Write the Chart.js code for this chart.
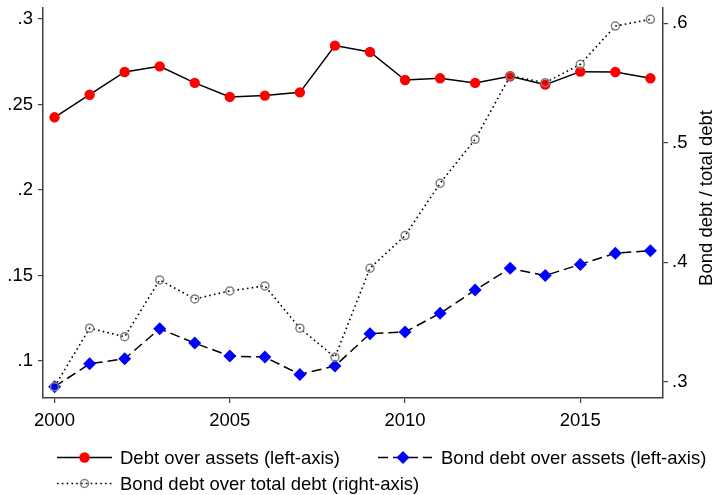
<!DOCTYPE html>
<html>
<head>
<meta charset="utf-8">
<script src="https://cdn.jsdelivr.net/npm/chart.js@4/dist/chart.umd.min.js"></script>
<style>
  html, body { margin: 0; padding: 0; background: #fff; }
  #wrap { width: 714px; height: 495px; position: relative; }
</style>
</head>
<body>
<div id="wrap"><canvas id="c" width="714" height="495"></canvas></div>
<script>
const years = [2000,2001,2002,2003,2004,2005,2006,2007,2008,2009,2010,2011,2012,2013,2014,2015,2016,2017];
const debtOverAssets = [0.2425,0.2557,0.2690,0.2723,0.2626,0.2544,0.2552,0.2571,0.2844,0.2807,0.2643,0.2653,0.2626,0.2665,0.2616,0.2692,0.2690,0.2653];
const bondDebtOverAssets = [0.0850,0.0984,0.1013,0.1189,0.1105,0.1029,0.1023,0.0922,0.0971,0.1160,0.1170,0.1279,0.1415,0.1542,0.1500,0.1565,0.1630,0.1645];
const bondDebtOverTotal = [0.2959,0.3448,0.3377,0.3852,0.3693,0.3760,0.3802,0.3448,0.3205,0.3950,0.4223,0.4661,0.5029,0.5559,0.5503,0.5657,0.5977,0.6033];
const xTicks = [2000,2005,2010,2015];
const leftTicks = [0.1,0.15,0.2,0.25,0.3];
const rightTicks = [0.3,0.4,0.5,0.6];
const seriesLabels = ['Debt over assets (left-axis)','Bond debt over assets (left-axis)','Bond debt over total debt (right-axis)'];
const rightTitle = 'Bond debt / total debt';

const FONT = '"Liberation Sans", Arial, sans-serif';
const FS = 18.5;
const AXIS_COLOR = '#404040';
const fmt = v => String(+v.toFixed(2)).replace(/^0\./, '.');

const styles = [
  { borderColor: '#000', borderWidth: 1.5, borderDash: [], pointStyle: 'circle', pointRadius: 5.2, pointBackgroundColor: '#ff0000', pointBorderColor: '#ff0000', pointBorderWidth: 0 },
  { borderColor: '#000', borderWidth: 1.5, borderDash: [10, 5], pointStyle: 'rectRot', pointRadius: 6.5, pointBackgroundColor: '#0000ff', pointBorderColor: '#0000ff', pointBorderWidth: 0 },
  { borderColor: '#000', borderWidth: 1.6, borderDash: [1.6, 3.2], pointStyle: 'circle', pointRadius: 4, pointBackgroundColor: 'rgba(255,255,255,0)', pointBorderColor: '#808080', pointBorderWidth: 1.5 }
];

const toPts = arr => years.map((y, i) => ({ x: y, y: arr[i] }));

const datasets = [
  Object.assign({ label: seriesLabels[0], data: toPts(debtOverAssets), yAxisID: 'yL', order: 3 }, styles[0]),
  Object.assign({ label: seriesLabels[1], data: toPts(bondDebtOverAssets), yAxisID: 'yL', order: 2 }, styles[1]),
  Object.assign({ label: seriesLabels[2], data: toPts(bondDebtOverTotal), yAxisID: 'yR', order: 1 }, styles[2])
];
datasets.forEach(d => { d.fill = false; d.tension = 0; d.pointHoverRadius = d.pointRadius; });

function drawMarker(ctx, st, x, y) {
  Chart.helpers.drawPoint(ctx, {
    pointStyle: st.pointStyle, radius: st.pointRadius, borderWidth: st.pointBorderWidth, rotation: 0
  }, x, y);
}

const legendPlugin = {
  id: 'customLegend',
  afterDraw(chart) {
    const ctx = chart.ctx;
    const items = [
      { x0: 57, x1: 112, mx: 84.5, ly: 457.5, tx: 120, ty: 464, i: 0 },
      { x0: 378, x1: 432, mx: 403, ly: 457.5, tx: 441, ty: 464, i: 1 },
      { x0: 57, x1: 112, mx: 84.5, ly: 483.5, tx: 120, ty: 490, i: 2 }
    ];
    items.forEach(it => {
      const st = styles[it.i];
      ctx.save();
      ctx.strokeStyle = st.borderColor;
      ctx.lineWidth = st.borderWidth;
      ctx.setLineDash(st.borderDash);
      ctx.beginPath();
      ctx.moveTo(it.x0, it.ly);
      ctx.lineTo(it.x1, it.ly);
      ctx.stroke();
      ctx.setLineDash([]);
      ctx.fillStyle = st.pointBackgroundColor;
      ctx.strokeStyle = st.pointBorderColor;
      ctx.lineWidth = st.pointBorderWidth;
      drawMarker(ctx, st, it.mx, it.ly);
      ctx.fillStyle = '#000';
      ctx.font = FS + 'px ' + FONT;
      ctx.textBaseline = 'alphabetic';
      ctx.textAlign = 'left';
      ctx.fillText(seriesLabels[it.i], it.tx, it.ty);
      ctx.restore();
    });
    // right axis title (reads bottom to top)
    const a = chart.chartArea;
    ctx.save();
    ctx.translate(707, (a.top + a.bottom) / 2 - 5);
    ctx.rotate(-Math.PI / 2);
    ctx.fillStyle = '#000';
    ctx.font = FS + 'px ' + FONT;
    ctx.textAlign = 'center';
    ctx.textBaseline = 'middle';
    ctx.fillText(rightTitle, 0, 0);
    ctx.restore();
  }
};

const gridCommon = { display: true, drawOnChartArea: false, drawTicks: true, tickLength: 5, color: AXIS_COLOR, lineWidth: 1.2 };
const borderCommon = { display: true, color: AXIS_COLOR, width: 1.5 };

new Chart(document.getElementById('c'), {
  type: 'line',
  data: { datasets },
  plugins: [legendPlugin],
  options: {
    responsive: false,
    animation: false,
    devicePixelRatio: 1,
    layout: { padding: { left: 0, right: 0, top: 8, bottom: 61 } },
    plugins: { legend: { display: false }, tooltip: { enabled: false } },
    scales: {
      x: {
        type: 'linear', min: 1999.67, max: 2017.36,
        grid: gridCommon, border: borderCommon,
        afterBuildTicks: s => { s.ticks = xTicks.map(v => ({ value: v })); },
        afterFit: s => { s.height = 36; s.paddingLeft = 0; s.paddingRight = 0; },
        ticks: { color: '#000', font: { family: FONT, size: FS }, padding: 7, maxRotation: 0, autoSkip: false, callback: v => String(v) }
      },
      yL: {
        type: 'linear', position: 'left', min: 0.0784, max: 0.3064,
        grid: gridCommon, border: borderCommon,
        afterBuildTicks: s => { s.ticks = leftTicks.map(v => ({ value: v })); },
        afterFit: s => { s.width = 43; s.paddingTop = 0; s.paddingBottom = 0; },
        ticks: { color: '#000', font: { family: FONT, size: FS }, padding: 5, autoSkip: false, callback: v => fmt(v) }
      },
      yR: {
        type: 'linear', position: 'right', min: 0.2864, max: 0.6128,
        grid: gridCommon, border: borderCommon,
        afterBuildTicks: s => { s.ticks = rightTicks.map(v => ({ value: v })); },
        afterFit: s => { s.width = 51; s.paddingTop = 0; s.paddingBottom = 0; },
        ticks: { color: '#000', font: { family: FONT, size: FS }, padding: 4, autoSkip: false, callback: v => fmt(v) }
      }
    }
  }
});
</script>
</body>
</html>
